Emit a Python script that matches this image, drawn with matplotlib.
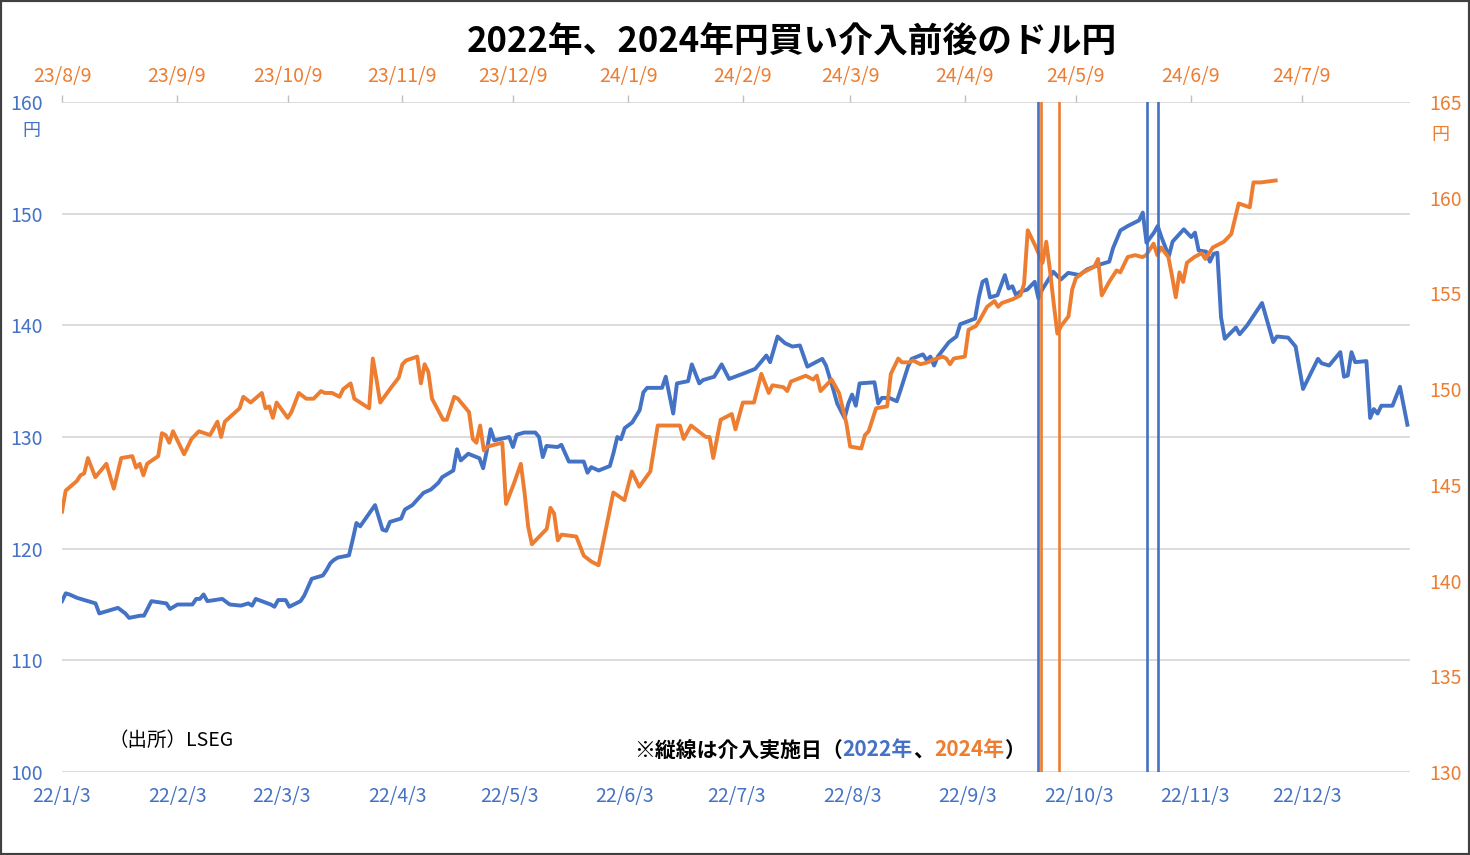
import matplotlib
matplotlib.use('Agg')
import matplotlib.pyplot as plt
import matplotlib.dates as mdates
from matplotlib.patches import Rectangle
import pandas as pd

plt.rcParams['font.family'] = ['Noto Sans CJK JP', 'DejaVu Sans']

BLUE = '#4472C4'
ORANGE = '#ED7D31'
GRID = '#D9D9D9'

# 2022 USD/JPY (bottom axis, left scale)
dates_2022 = [
    '2022-01-03', '2022-01-04', '2022-01-05', '2022-01-07', '2022-01-11', '2022-01-12', '2022-01-13', '2022-01-14',
    '2022-01-18', '2022-01-20', '2022-01-21', '2022-01-24', '2022-01-25', '2022-01-27', '2022-01-31',
    '2022-02-01', '2022-02-03', '2022-02-07', '2022-02-08', '2022-02-09', '2022-02-10', '2022-02-11', '2022-02-15',
    '2022-02-17', '2022-02-20', '2022-02-22', '2022-02-23', '2022-02-24', '2022-02-28',
    '2022-03-01', '2022-03-02', '2022-03-04', '2022-03-05', '2022-03-08', '2022-03-09', '2022-03-11', '2022-03-14',
    '2022-03-15', '2022-03-16', '2022-03-17', '2022-03-18', '2022-03-21', '2022-03-22', '2022-03-23', '2022-03-24',
    '2022-03-28', '2022-03-30', '2022-03-31',
    '2022-04-01', '2022-04-04', '2022-04-05', '2022-04-07', '2022-04-10', '2022-04-12', '2022-04-14', '2022-04-15',
    '2022-04-18', '2022-04-19', '2022-04-20', '2022-04-22', '2022-04-25', '2022-04-26', '2022-04-27', '2022-04-28',
    '2022-04-29',
    '2022-05-03', '2022-05-04', '2022-05-05', '2022-05-07', '2022-05-10', '2022-05-11', '2022-05-12', '2022-05-13',
    '2022-05-16', '2022-05-17', '2022-05-19', '2022-05-23', '2022-05-24', '2022-05-25', '2022-05-27', '2022-05-30',
    '2022-05-31',
    '2022-06-01', '2022-06-02', '2022-06-03', '2022-06-05', '2022-06-07', '2022-06-08', '2022-06-09', '2022-06-13',
    '2022-06-14', '2022-06-16', '2022-06-17', '2022-06-20', '2022-06-21', '2022-06-23', '2022-06-24', '2022-06-27',
    '2022-06-29',
    '2022-07-01', '2022-07-05', '2022-07-08', '2022-07-11', '2022-07-12', '2022-07-14', '2022-07-16', '2022-07-18',
    '2022-07-20', '2022-07-22', '2022-07-26', '2022-07-27', '2022-07-29', '2022-07-30',
    '2022-08-01', '2022-08-02', '2022-08-03', '2022-08-04', '2022-08-05', '2022-08-09', '2022-08-10', '2022-08-11',
    '2022-08-13', '2022-08-15', '2022-08-16', '2022-08-18', '2022-08-19', '2022-08-22', '2022-08-23', '2022-08-24',
    '2022-08-25', '2022-08-26', '2022-08-29', '2022-08-31',
    '2022-09-01', '2022-09-05', '2022-09-06', '2022-09-07', '2022-09-08', '2022-09-09', '2022-09-11', '2022-09-13',
    '2022-09-14', '2022-09-15', '2022-09-16', '2022-09-17', '2022-09-19', '2022-09-21', '2022-09-22', '2022-09-23',
    '2022-09-26', '2022-09-28', '2022-09-30',
    '2022-10-03', '2022-10-05', '2022-10-08', '2022-10-11', '2022-10-12', '2022-10-14', '2022-10-16', '2022-10-19',
    '2022-10-20', '2022-10-21', '2022-10-23', '2022-10-24', '2022-10-25', '2022-10-27', '2022-10-28', '2022-10-31',
    '2022-11-02', '2022-11-03', '2022-11-04', '2022-11-06', '2022-11-07', '2022-11-08', '2022-11-09', '2022-11-10',
    '2022-11-11', '2022-11-14', '2022-11-15', '2022-11-17', '2022-11-18', '2022-11-21', '2022-11-24', '2022-11-25',
    '2022-11-28', '2022-11-30',
    '2022-12-02', '2022-12-06', '2022-12-07', '2022-12-09', '2022-12-12', '2022-12-13', '2022-12-14', '2022-12-15',
    '2022-12-16', '2022-12-19', '2022-12-20', '2022-12-21', '2022-12-22', '2022-12-23', '2022-12-26', '2022-12-28',
    '2022-12-30',
]
usdjpy_2022 = [
    115.3, 116.0, 115.9, 115.6, 115.2, 115.1, 114.2, 114.3, 114.7, 114.2, 113.8, 114.0, 114.0, 115.3, 115.1,
    114.6, 115.0, 115.0, 115.5, 115.5, 115.9, 115.3, 115.5, 115.0, 114.9, 115.1, 114.9, 115.5, 115.0,
    114.8, 115.4, 115.4, 114.8, 115.3, 115.8, 117.3, 117.6, 118.1, 118.7, 119.0, 119.2, 119.4, 120.8, 122.3, 122.0,
    123.9, 121.7, 121.6,
    122.4, 122.7, 123.5, 123.9, 125.0, 125.3, 125.9, 126.4, 127.0, 128.9, 127.9, 128.5, 128.1, 127.2, 128.8, 130.7,
    129.7,
    130.0, 129.1, 130.2, 130.4, 130.4, 130.0, 128.2, 129.2, 129.1, 129.3, 127.8, 127.8, 126.8, 127.3, 127.0, 127.4,
    128.6,
    130.0, 129.8, 130.8, 131.3, 132.4, 134.0, 134.4, 134.4, 135.4, 132.1, 134.8, 135.0, 136.5, 134.8, 135.1, 135.4,
    136.5,
    135.2, 135.7, 136.1, 137.3, 136.7, 139.0, 138.4, 138.1, 138.2, 136.3, 137.0, 136.4, 134.2, 133.0,
    131.7, 133.0, 133.8, 132.8, 134.8, 134.9, 133.0, 133.5, 133.5, 133.2, 134.2, 136.3, 137.0, 137.4, 136.9, 137.2,
    136.4, 137.2, 138.5, 139.0,
    140.1, 140.6, 142.5, 143.9, 144.1, 142.5, 142.7, 144.5, 143.3, 143.5, 142.7, 143.0, 143.2, 143.9, 142.4, 143.2,
    144.8, 144.1, 144.7,
    144.5, 145.0, 145.4, 145.7, 146.9, 148.5, 148.9, 149.4, 150.1, 147.4, 148.3, 148.9, 147.9, 146.2, 147.5, 148.6,
    147.9, 148.3, 146.7, 146.6, 145.7, 146.4, 146.5, 140.7, 138.8, 139.8, 139.2, 140.0, 140.5, 142.0, 138.5, 139.0,
    138.9, 138.1,
    134.3, 137.0, 136.6, 136.4, 137.6, 135.4, 135.5, 137.6, 136.7, 136.8, 131.7, 132.5, 132.1, 132.8, 132.8, 134.5,
    131.1,
]

# 2023/8 - 2024/7 USD/JPY (top axis, right scale)
dates_2024 = [
    '2023-08-09', '2023-08-10', '2023-08-13', '2023-08-14', '2023-08-15', '2023-08-16', '2023-08-18', '2023-08-21',
    '2023-08-23', '2023-08-24', '2023-08-25', '2023-08-28', '2023-08-29', '2023-08-30', '2023-08-31',
    '2023-09-01', '2023-09-04', '2023-09-05', '2023-09-06', '2023-09-07', '2023-09-08', '2023-09-11', '2023-09-13',
    '2023-09-15', '2023-09-18', '2023-09-20', '2023-09-21', '2023-09-22', '2023-09-26', '2023-09-27', '2023-09-29',
    '2023-10-02', '2023-10-03', '2023-10-04', '2023-10-05', '2023-10-06', '2023-10-09', '2023-10-10', '2023-10-12',
    '2023-10-14', '2023-10-16', '2023-10-18', '2023-10-19', '2023-10-21', '2023-10-23', '2023-10-24', '2023-10-26',
    '2023-10-27', '2023-10-31',
    '2023-11-01', '2023-11-02', '2023-11-03', '2023-11-06', '2023-11-08', '2023-11-09', '2023-11-10', '2023-11-13',
    '2023-11-14', '2023-11-15', '2023-11-16', '2023-11-17', '2023-11-20', '2023-11-21', '2023-11-23', '2023-11-24',
    '2023-11-27', '2023-11-28', '2023-11-29', '2023-11-30',
    '2023-12-01', '2023-12-02', '2023-12-06', '2023-12-07', '2023-12-09', '2023-12-11', '2023-12-12', '2023-12-13',
    '2023-12-14', '2023-12-18', '2023-12-19', '2023-12-20', '2023-12-21', '2023-12-22', '2023-12-26', '2023-12-28',
    '2023-12-30',
    '2024-01-01', '2024-01-05', '2024-01-08', '2024-01-10', '2024-01-12', '2024-01-15', '2024-01-17', '2024-01-23',
    '2024-01-24', '2024-01-26', '2024-01-30', '2024-01-31',
    '2024-02-01', '2024-02-03', '2024-02-06', '2024-02-07', '2024-02-09', '2024-02-12', '2024-02-14', '2024-02-16',
    '2024-02-17', '2024-02-20', '2024-02-21', '2024-02-22', '2024-02-26', '2024-02-28', '2024-02-29',
    '2024-03-01', '2024-03-04', '2024-03-06', '2024-03-08', '2024-03-09', '2024-03-12', '2024-03-13', '2024-03-14',
    '2024-03-16', '2024-03-19', '2024-03-20', '2024-03-22', '2024-03-23', '2024-03-25', '2024-03-26', '2024-03-28',
    '2024-03-30', '2024-03-31',
    '2024-04-03', '2024-04-04', '2024-04-05', '2024-04-06', '2024-04-09', '2024-04-10', '2024-04-12', '2024-04-13',
    '2024-04-15', '2024-04-17', '2024-04-18', '2024-04-19', '2024-04-22', '2024-04-24', '2024-04-25', '2024-04-26',
    '2024-04-28', '2024-04-30',
    '2024-05-01', '2024-05-02', '2024-05-03', '2024-05-04', '2024-05-05', '2024-05-07', '2024-05-08', '2024-05-09',
    '2024-05-11', '2024-05-14', '2024-05-15', '2024-05-16', '2024-05-18', '2024-05-20', '2024-05-21', '2024-05-23',
    '2024-05-25', '2024-05-27', '2024-05-28', '2024-05-30', '2024-05-31',
    '2024-06-01', '2024-06-03', '2024-06-04', '2024-06-05', '2024-06-06', '2024-06-07', '2024-06-08', '2024-06-10',
    '2024-06-12', '2024-06-13', '2024-06-15', '2024-06-18', '2024-06-20', '2024-06-22', '2024-06-25', '2024-06-26',
    '2024-06-28',
    '2024-07-02',
]
usdjpy_2024 = [
    143.6, 144.7, 145.2, 145.5, 145.6, 146.4, 145.4, 146.1, 144.8, 145.6, 146.4, 146.5, 145.9, 146.1, 145.5,
    146.1, 146.5, 147.7, 147.6, 147.2, 147.8, 146.6, 147.4, 147.8, 147.6, 148.3, 147.5, 148.3, 149.0, 149.6, 149.3,
    149.8, 149.0, 149.1, 148.5, 149.3, 148.5, 148.8, 149.8, 149.5, 149.5, 149.9, 149.8, 149.8, 149.6, 150.0, 150.3,
    149.5, 149.0,
    151.6, 150.5, 149.3, 150.1, 150.6, 151.3, 151.5, 151.7, 150.3, 151.3, 150.9, 149.5, 148.4, 148.4, 149.6, 149.5,
    148.8, 147.4, 147.2, 148.1,
    146.8, 147.0, 147.2, 144.0, 145.0, 146.1, 144.6, 142.8, 141.9, 142.7, 143.8, 143.5, 142.1, 142.4, 142.3, 141.3,
    141.0,
    140.8, 144.6, 144.2, 145.7, 144.9, 145.7, 148.1, 148.1, 147.4, 148.1, 147.5, 147.5,
    146.4, 148.4, 148.7, 147.9, 149.3, 149.3, 150.8, 149.8, 150.2, 150.1, 149.9, 150.4, 150.7, 150.5, 150.7,
    149.9, 150.5, 149.8, 148.2, 147.0, 146.9, 147.6, 147.8, 149.0, 149.1, 150.8, 151.6, 151.4, 151.4, 151.5, 151.3,
    151.4, 151.5,
    151.7, 151.6, 151.3, 151.6, 151.7, 153.1, 153.3, 153.6, 154.3, 154.6, 154.3, 154.5, 154.7, 154.9, 155.5, 158.3,
    157.5, 156.6,
    157.7, 156.2, 154.5, 152.9, 153.3, 153.8, 155.2, 155.8, 156.1, 156.4, 156.8, 154.9, 155.6, 156.2, 156.1, 156.9,
    157.0, 156.9, 157.0, 157.6, 157.0,
    157.4, 156.9, 155.9, 154.8, 156.1, 155.6, 156.6, 156.9, 157.1, 156.8, 157.4, 157.7, 158.1, 159.7, 159.5, 160.8,
    160.8,
    160.9,
]

intervention_2022 = ['2022-09-21 18:00', '2022-10-21 00:00', '2022-10-24 00:00']
intervention_2024 = ['2024-04-29 14:00', '2024-05-04 10:00']

bottom_ticks = ['2022-01-03', '2022-02-03', '2022-03-03', '2022-04-03', '2022-05-03', '2022-06-03',
                '2022-07-03', '2022-08-03', '2022-09-03', '2022-10-03', '2022-11-03', '2022-12-03']
top_ticks = ['2023-08-09', '2023-09-09', '2023-10-09', '2023-11-09', '2023-12-09', '2024-01-09',
             '2024-02-09', '2024-03-09', '2024-04-09', '2024-05-09', '2024-06-09', '2024-07-09']

title = '2022年、2024年円買い介入前後のドル円'
source = '（出所）LSEG'
note_parts = [('※縦線は介入実施日（', 'black'), ('2022年', BLUE), ('、', 'black'),
              ('2024年', ORANGE), ('）', 'black')]

W, H = 1470, 855
fig = plt.figure(figsize=(W / 100, H / 100), dpi=100)
rect = [62 / W, 1 - 772 / H, 1348 / W, 670 / H]
TICK_FS = 14


def short_label(d):
    return f"{d.year % 100}/{d.month}/{d.day}"


# --- 2022 series: bottom x axis, left y axis
ax = fig.add_axes(rect)
x22 = pd.to_datetime(dates_2022)
start22 = pd.Timestamp('2022-01-03')
ax.set_xlim(start22, start22 + pd.Timedelta(days=361.7))
ax.set_ylim(100, 160)
ax.set_yticks(range(100, 161, 10))
ax.yaxis.grid(True, color=GRID, lw=1.3)
ax.set_axisbelow(True)
for s in ax.spines.values():
    s.set_visible(False)
bt = pd.to_datetime(bottom_ticks)
ax.set_xticks(bt)
ax.set_xticklabels([short_label(d) for d in bt])
ax.tick_params(axis='x', length=0, pad=10, labelsize=TICK_FS, labelcolor=BLUE)
ax.tick_params(axis='y', length=0, pad=14, labelsize=TICK_FS, labelcolor=BLUE)
ax.plot(x22, usdjpy_2022, color=BLUE, lw=2.8, solid_joinstyle='round', zorder=3)

# --- 2024 series: top x axis, right y axis
ax2 = fig.add_axes(rect, frameon=False)
x24 = pd.to_datetime(dates_2024)
start24 = pd.Timestamp('2023-08-09')
ax2.set_xlim(start24, start24 + pd.Timedelta(days=364.3))
ax2.set_ylim(130, 165)
ax2.set_yticks(range(130, 166, 5))
ax2.xaxis.tick_top()
ax2.yaxis.tick_right()
tt = pd.to_datetime(top_ticks)
ax2.set_xticks(tt)
ax2.set_xticklabels([short_label(d) for d in tt])
ax2.tick_params(axis='x', direction='out', length=5, width=1, color='#BFBFBF', pad=6,
                labelsize=TICK_FS, labelcolor=ORANGE)
ax2.tick_params(axis='y', length=0, pad=14, labelsize=TICK_FS, labelcolor=ORANGE)
ax2.plot(x24, usdjpy_2024, color=ORANGE, lw=2.8, solid_joinstyle='round', zorder=3)

# intervention dates, drawn on top of both series
for d in pd.to_datetime(intervention_2024):
    ax2.axvline(d, color=ORANGE, lw=1.9, zorder=4)
for d in pd.to_datetime(intervention_2022):
    # map the 2022 date onto the top axis so the line sits above both series
    x_disp = ax.transData.transform((mdates.date2num(d), 0))[0]
    x_top = ax2.transData.inverted().transform((x_disp, 0))[0]
    ax2.axvline(x_top, color=BLUE, lw=1.9, zorder=5)

# unit labels
fig.text(31 / W, 1 - 131 / H, '円', color=BLUE, fontsize=13, ha='center', va='center')
fig.text(1440 / W, 1 - 135 / H, '円', color=ORANGE, fontsize=13, ha='center', va='center')

# title and notes
fig.text(792 / W, 1 - 42 / H, title, ha='center', va='center', fontsize=25, fontweight='bold')
fig.text(108 / W, 1 - 740 / H, source, ha='left', va='center', fontsize=14)

fig.canvas.draw()
renderer = fig.canvas.get_renderer()
xpos = 634
for txt, col in note_parts:
    t = fig.text(xpos / W, 1 - 750 / H, txt, color=col, ha='left', va='center',
                 fontsize=15, fontweight='bold')
    xpos = t.get_window_extent(renderer=renderer).x1

# outer frame
fig.patches.append(Rectangle((0, 0), 1, 1, transform=fig.transFigure, fill=False,
                             edgecolor='#404040', lw=3, zorder=10))

fig.savefig('out.png', dpi=100)
